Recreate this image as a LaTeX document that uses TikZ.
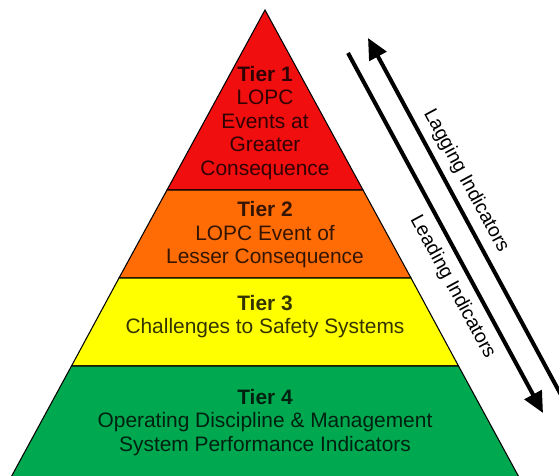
\documentclass[tikz,border=0pt]{standalone}
\usepackage{fontspec}
\setmainfont{Liberation Sans}
\usepackage{xcolor}
\usetikzlibrary{arrows.meta}

\definecolor{rosso}{RGB}{240,14,14}
\definecolor{arancio}{RGB}{255,108,6}
\definecolor{giallo}{RGB}{255,255,0}
\definecolor{verde}{RGB}{0,168,80}

\begin{document}
\begin{tikzpicture}[
    fascia/.style={draw=black, line width=0.6pt},
    testo/.style={align=center, inner sep=0pt, text opacity=0.8,
        font=\fontsize{11.9}{13.4}\selectfont},
    etichetta/.style={rotate=-61.6, inner sep=0pt,
        font=\fontsize{11.1}{13.1}\selectfont},
    freccia/.style={line width=2.3pt, -{Triangle[length=0.42cm, width=0.38cm]}}
]
    % Area del disegno
    \useasboundingbox (0,0) rectangle (11.18,9.5);
    \clip (0,0) rectangle (11.18,9.5);

    % Piramide a quattro livelli
    \filldraw[fascia, fill=rosso] (5.30,9.30) -- (7.26,5.70) -- (3.34,5.70) -- cycle;
    \filldraw[fascia, fill=arancio] (3.34,5.70) -- (7.26,5.70) -- (8.22,3.94) -- (2.38,3.94) -- cycle;
    \filldraw[fascia, fill=giallo] (2.38,3.94) -- (8.22,3.94) -- (9.17,2.18) -- (1.43,2.18) -- cycle;
    \filldraw[fascia, fill=verde] (1.43,2.18) -- (9.17,2.18) -- (10.41,-0.1) -- (0.19,-0.1) -- cycle;

    % Testi dei livelli
    \node[testo] (tier1) at (5.30,7.04) {\textbf{Tier 1}\\LOPC\\Events at\\Greater\\Consequence};
    \node[testo] (tier2) at (5.30,4.80) {\textbf{Tier 2}\\LOPC Event of\\Lesser Consequence};
    \node[testo] (tier3) at (5.30,3.17) {\textbf{Tier 3}\\Challenges to Safety Systems};
    \node[testo] (tier4) at (5.30,1.05) {\textbf{Tier 4}\\Operating Discipline \& Management\\System Performance Indicators};

    % Frecce degli indicatori
    \coordinate (lead-start) at (6.96,8.44);
    \coordinate (lead-end) at (10.86,1.24);
    \coordinate (lag-start) at (11.60,0.90);
    \coordinate (lag-end) at (7.36,8.74);
    \draw[freccia] (lead-start) -- (lead-end);
    \draw[freccia] (lag-start) -- (lag-end);

    \node[etichetta] (lagging) at (9.32,5.88) {Lagging Indicators};
    \node[etichetta] (leading) at (9.05,3.76) {Leading Indicators};
\end{tikzpicture}
\end{document}
